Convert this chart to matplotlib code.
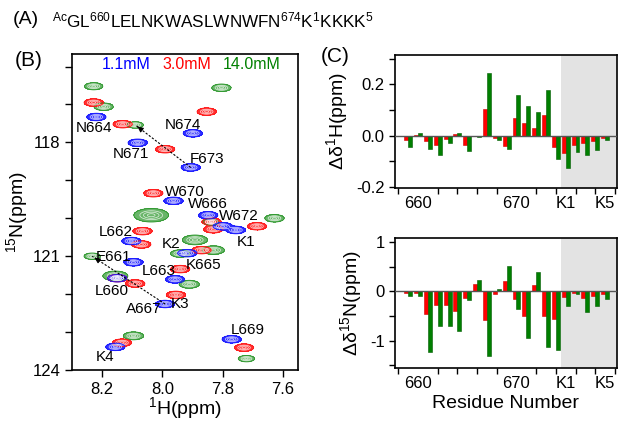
import numpy as np
import matplotlib.pyplot as plt
from matplotlib.ticker import MultipleLocator, FixedLocator, FormatStrFormatter

plt.rcParams['font.family'] = ['Liberation Sans', 'DejaVu Sans']
plt.rcParams['mathtext.fontset'] = 'custom'
plt.rcParams['mathtext.rm'] = 'Liberation Sans'
plt.rcParams['mathtext.it'] = 'Liberation Sans:italic'
plt.rcParams['axes.unicode_minus'] = False

# HSQC peak positions (1H ppm, 15N ppm) for each concentration
blue_x = [8.219, 8.082, 7.899, 7.906, 7.963, 7.848, 7.800, 7.756, 8.103, 7.917,
          8.096, 8.150, 7.958, 7.991, 8.156, 7.770]
blue_y = [117.33, 118.01, 117.76, 118.66, 119.54, 119.92, 120.21, 120.31, 120.60, 120.92,
          121.16, 121.58, 121.61, 122.26, 123.39, 123.19]
red_x = [8.228, 8.132, 7.991, 7.853, 8.030, 7.837, 7.831, 7.686, 8.066, 8.070,
         7.870, 8.150, 8.090, 7.941, 7.955, 8.134, 7.729]
red_y = [116.95, 117.52, 118.18, 117.19, 119.34, 120.09, 120.29, 120.21, 120.34, 120.69,
         120.84, 121.58, 121.72, 121.34, 122.02, 123.28, 123.41]
green_x = [8.228, 8.195, 8.090, 7.804, 8.037, 7.840, 7.628, 7.892, 7.831, 7.941,
           8.233, 8.156, 7.911, 8.096, 7.721]
green_y = [116.52, 117.06, 117.54, 116.56, 119.92, 120.10, 120.00, 120.57, 120.84, 120.93,
           121.00, 121.52, 121.74, 123.10, 123.70]
green_w = [0.95, 1.0, 0.85, 1.0, 1.8, 0.8, 1.0, 1.3, 1.15, 1.0,
           0.85, 1.3, 1.05, 1.05, 0.85]
conc_labels = ['1.1mM', '3.0mM', '14.0mM']

# assignment labels
peak_names = ['N664', 'N674', 'N671', 'F673', 'W670', 'W666', 'W672', 'K1', 'L662', 'K2',
              'E661', 'K665', 'L663', 'L660', 'A667', 'K3', 'L669', 'K4']
name_x = [8.228, 7.932, 8.104, 7.851, 7.925, 7.848, 7.745, 7.723, 8.156, 7.972,
          8.162, 7.862, 8.013, 8.169, 8.063, 7.941, 7.716, 8.191]
name_y = [117.63, 117.54, 118.31, 118.44, 119.30, 119.63, 119.94, 120.62, 120.37, 120.68,
          121.01, 121.23, 121.39, 121.91, 122.40, 122.26, 122.95, 123.67]

# chemical shift perturbations
residues = np.arange(659, 680)
dH_3mM = [-0.019, 0.003, -0.023, -0.035, -0.012, 0.008, -0.035, -0.002, 0.103, -0.009,
          -0.040, 0.068, 0.049, 0.030, 0.082, -0.045, -0.068, -0.036, -0.030, -0.022, -0.009]
dH_14mM = [-0.043, 0.012, -0.053, -0.077, -0.030, 0.012, -0.062, -0.006, 0.243, -0.018,
           -0.051, 0.158, 0.117, 0.094, 0.177, -0.092, -0.126, -0.065, -0.074, -0.056, -0.018]
dN_3mM = [-0.03, -0.03, -0.46, -0.27, -0.28, -0.39, -0.13, 0.15, -0.58, -0.05,
          0.22, -0.16, -0.49, 0.13, -0.49, -0.56, -0.12, -0.03, -0.14, -0.09, -0.05]
dN_14mM = [-0.09, -0.09, -1.24, -0.70, -0.71, -0.80, -0.17, 0.23, -1.31, 0.05,
           0.52, -0.36, -0.95, 0.39, -1.13, -1.19, -0.29, -0.05, -0.42, -0.29, -0.16]
tick_pos = [660, 670, 675, 679]
tick_lab = ['660', '670', 'K1', 'K5']

fig = plt.figure(figsize=(6.19, 4.21), dpi=100)

# ---- (B) HSQC overlay ----
ax = fig.add_axes([0.1163, 0.1211, 0.3651, 0.7506])
xg = np.linspace(7.55, 8.30, 700)
yg = np.linspace(115.67, 124.0, 700)
X, Y = np.meshgrid(xg, yg)


def spectrum(px, py, w):
    Z = np.zeros_like(X)
    for x0, y0, s in zip(px, py, w):
        Z += np.exp(-((X - x0) ** 2 / (2 * (0.0155 * s) ** 2)
                      + (Y - y0) ** 2 / (2 * (0.048 * s) ** 2)))
    return Z


for px, py, w, c, a in [(green_x, green_y, green_w, '#2a962a', 0.7),
                        (red_x, red_y, [1] * len(red_x), '#ff1a1a', 0.9),
                        (blue_x, blue_y, [1] * len(blue_x), '#1a1aff', 0.9)]:
    Z = spectrum(px, py, w)
    ax.contourf(X, Y, Z, levels=[0.12, 100], colors=[c], alpha=a)
    ax.contour(X, Y, Z, levels=[0.12], colors=[c], linewidths=0.6)
    ax.contour(X, Y, Z, levels=[0.4, 0.65, 0.9], colors='white', linewidths=0.5, alpha=0.8)

for (x0, y0), (x1, y1) in [((blue_x[3], blue_y[3]), (green_x[2], green_y[2])),
                           ((blue_x[13], blue_y[13]), (green_x[10], green_y[10]))]:
    ax.plot([x0, x1], [y0, y1], color='k', lw=0.8, ls=(0, (2, 1.5)))
    ax.annotate('', xy=(x1, y1), xytext=(x1 + (x0 - x1) * 0.08, y1 + (y0 - y1) * 0.08),
                arrowprops=dict(arrowstyle='-|>', color='k', lw=0.8, mutation_scale=8))

for t, x, y in zip(peak_names, name_x, name_y):
    ax.text(x, y, t, fontsize=11, ha='center', va='center')

for t, fx, c in zip(conc_labels, [0.242, 0.507, 0.795], ['#0000ff', '#ff0000', '#008000']):
    ax.text(fx, 0.968, t, color=c, fontsize=11.5, ha='center', va='center', transform=ax.transAxes)

ax.set_xlim(8.30, 7.55)
ax.set_ylim(124.0, 115.67)
ax.xaxis.set_major_locator(FixedLocator([8.2, 8.0, 7.8, 7.6]))
ax.xaxis.set_major_formatter(FormatStrFormatter('%.1f'))
ax.yaxis.set_major_locator(FixedLocator([118, 121, 124]))
ax.yaxis.set_minor_locator(MultipleLocator(1))
ax.tick_params(which='both', direction='out', length=5, width=1, labelsize=12)
ax.set_xlabel('$^1$H(ppm)', fontsize=14, labelpad=-1)
ax.set_ylabel('$^{15}$N(ppm)', fontsize=14, labelpad=2)
for s in ax.spines.values():
    s.set_linewidth(1.2)

# ---- (C) perturbation bars ----
ax1 = fig.add_axes([0.638, 0.5534, 0.3586, 0.3159])
ax2 = fig.add_axes([0.638, 0.1259, 0.3586, 0.3088])
for a, d3, d14, lab, ylim in [(ax1, dH_3mM, dH_14mM, 'Δδ$^1$H(ppm)', (-0.205, 0.315)),
                              (ax2, dN_3mM, dN_14mM, 'Δδ$^{15}$N(ppm)', (-1.56, 1.09))]:
    a.axvspan(674.5, 680.3, color='#e3e3e3', lw=0, zorder=0)
    a.bar(residues - 0.2, d3, width=0.4, color='#ff0000', edgecolor='#cc0000', lw=0.4, zorder=2)
    a.bar(residues + 0.2, d14, width=0.4, color='#007f00', edgecolor='#005a00', lw=0.4, zorder=2)
    a.axhline(0, color='#555555', lw=1, zorder=3)
    a.set_xlim(657.65, 680.2)
    a.set_ylim(*ylim)
    a.set_xticks(tick_pos)
    a.set_xticklabels(tick_lab)
    a.xaxis.set_minor_locator(FixedLocator(np.arange(658, 681, 2)))
    a.tick_params(axis='x', which='major', length=0, pad=6, labelsize=12)
    a.tick_params(axis='x', which='minor', length=4, width=1, direction='out')
    a.tick_params(axis='y', which='both', length=4, width=1, direction='out', labelsize=12)
    a.set_ylabel(lab, fontsize=14)
    for s in a.spines.values():
        s.set_linewidth(1.2)

ax1.yaxis.set_major_locator(FixedLocator([-0.2, 0.0, 0.2]))
ax1.yaxis.set_major_formatter(FormatStrFormatter('%.1f'))
ax1.yaxis.set_minor_locator(MultipleLocator(0.1))
ax2.yaxis.set_major_locator(FixedLocator([-1, 0, 1]))
ax2.yaxis.set_minor_locator(MultipleLocator(0.5))
ax2.set_xlabel('Residue Number', fontsize=14, labelpad=3)

# panel labels and sequence
fig.text(13 / 619, 1 - 20 / 421, '(A)', fontsize=14, va='center')
fig.text(52 / 619, 1 - 20 / 421,
         r'$^{\mathrm{Ac}}$GL$^{660}$LELNKWASLWNWFN$^{674}$K$^{1}$KKKK$^{5}$',
         fontsize=12.3, va='center')
fig.text(15 / 619, 1 - 60 / 421, '(B)', fontsize=15, va='center')
fig.text(321 / 619, 1 - 57 / 421, '(C)', fontsize=15, va='center')

fig.savefig('out.png', dpi=100)
